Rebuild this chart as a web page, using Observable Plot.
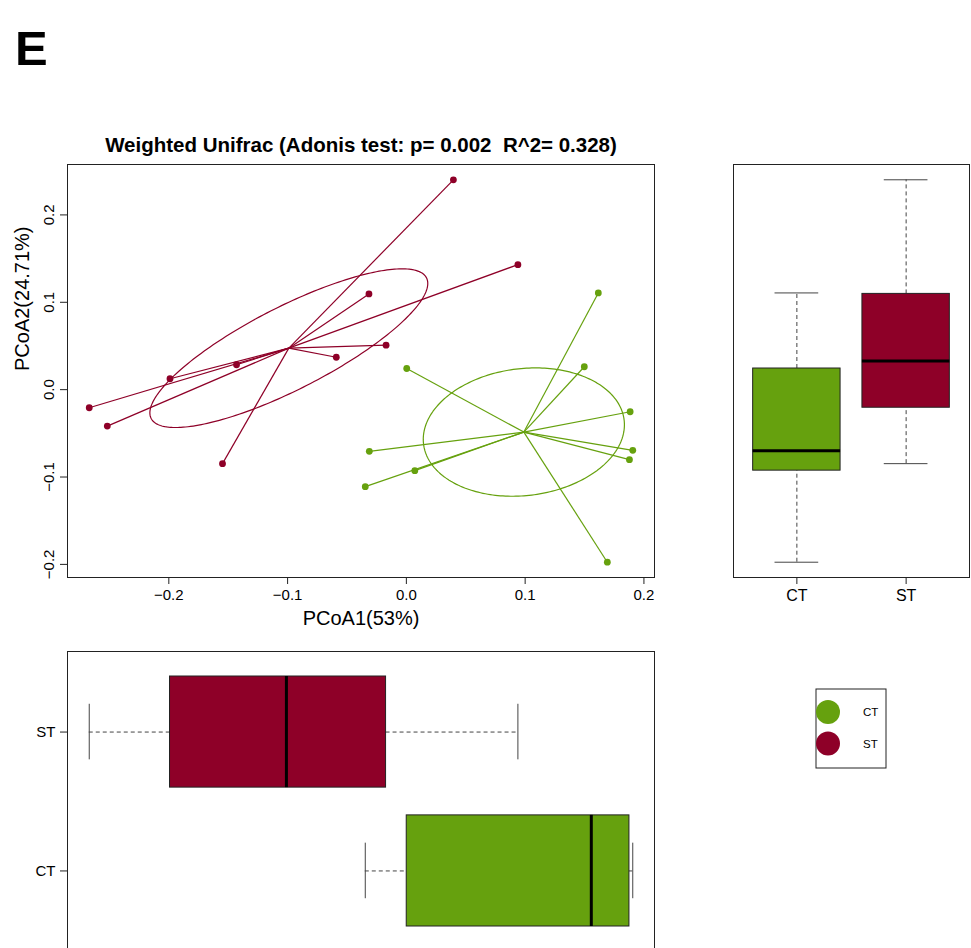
<!DOCTYPE html>
<html>
<head>
<meta charset="utf-8">
<script src="https://cdn.jsdelivr.net/npm/d3@7"></script>
<script src="https://cdn.jsdelivr.net/npm/@observablehq/plot@0.6"></script>
<style>
  html, body { margin: 0; padding: 0; background: #fff; }
  #page { position: relative; width: 971px; height: 948px; overflow: hidden;
          font-family: "Liberation Sans", Arial, Helvetica, sans-serif; }
  .panel { position: absolute; }
  .panel svg { display: block; overflow: visible; }
</style>
</head>
<body>
<div id="page">
  <div class="panel" id="overlay" style="left:0;top:0;"></div>
  <div class="panel" id="scatter" style="left:0;top:140px;"></div>
  <div class="panel" id="side" style="left:700px;top:140px;"></div>
  <div class="panel" id="bottom" style="left:0;top:640px;"></div>
  <div class="panel" id="legend" style="left:800px;top:680px;"></div>
</div>
<script>
// ---- data -------------------------------------------------------------
const panelLetter = "E";
const titleText = "Weighted Unifrac (Adonis test: p= 0.002  R^2= 0.328)";
const xLabel = "PCoA1(53%)";
const yLabel = "PCoA2(24.71%)";

const groups = ["CT", "ST"];
const groupColors = ["#66a10e", "#8e0028"];

// PCoA scores per sample
const ctPC1 = [0.1616, 0.1498, 0.0003, 0.1884, 0.1906, 0.1878, -0.0312, 0.0071, -0.0346, 0.1692];
const ctPC2 = [0.1107, 0.0262, 0.0242, -0.0253, -0.0695, -0.0801, -0.0706, -0.0927, -0.1110, -0.1975];
const stPC1 = [0.0396, 0.0939, -0.0315, -0.0171, -0.0590, -0.1430, -0.1990, -0.2670, -0.2518, -0.1548];
const stPC2 = [0.2402, 0.1431, 0.1096, 0.0509, 0.0371, 0.0285, 0.0125, -0.0207, -0.0417, -0.0847];

// dispersion-ellipse size (multiples of the group covariance)
const ellipseScale = [0.853, 0.952];

const xTicks = [-0.2, -0.1, 0.0, 0.1, 0.2];
const yTicks = [-0.2, -0.1, 0.0, 0.1, 0.2];

// ---- derived tables -----------------------------------------------------
const pc1 = [ctPC1, stPC1];
const pc2 = [ctPC2, stPC2];
const fmt = d3.format(".1f");
const FONT = '"Liberation Sans", Arial, Helvetica, sans-serif';

const centroids = groups.map((g, i) => ({group: g, cx: d3.mean(pc1[i]), cy: d3.mean(pc2[i])}));
const samples = groups.flatMap((g, i) =>
  pc1[i].map((x, j) => ({group: g, pc1: x, pc2: pc2[i][j], cx: centroids[i].cx, cy: centroids[i].cy})));

function ellipse(xs, ys, s, group) {
  const n = xs.length, mx = d3.mean(xs), my = d3.mean(ys);
  let sxx = 0, syy = 0, sxy = 0;
  for (let i = 0; i < n; i++) {
    const dx = xs[i] - mx, dy = ys[i] - my;
    sxx += dx * dx; syy += dy * dy; sxy += dx * dy;
  }
  sxx /= n - 1; syy /= n - 1; sxy /= n - 1;
  const a = Math.sqrt(sxx), b = sxy / a, c = Math.sqrt(syy - b * b);
  return d3.range(0, 241).map(k => {
    const t = 2 * Math.PI * k / 240;
    return {group, x: mx + s * a * Math.cos(t), y: my + s * (b * Math.cos(t) + c * Math.sin(t))};
  });
}
const ellipses = groups.flatMap((g, i) => ellipse(pc1[i], pc2[i], ellipseScale[i], g));

// Tukey five-number summary with 1.5 IQR whiskers
function boxStats(values, pos, group) {
  const s = [...values].sort((a, b) => a - b), n = s.length;
  const n4 = Math.floor((n + 3) / 2) / 2;
  const q = [1, n4, (n + 1) / 2, n + 1 - n4, n].map(d => 0.5 * (s[Math.floor(d) - 1] + s[Math.ceil(d) - 1]));
  const iqr = q[3] - q[1];
  const lo = d3.min(s.filter(v => v >= q[1] - 1.5 * iqr));
  const hi = d3.max(s.filter(v => v <= q[3] + 1.5 * iqr));
  return {group, pos, lo, q1: q[1], med: q[2], q3: q[3], hi};
}
const boxY = groups.map((g, i) => boxStats(pc2[i], i + 1, g));
const boxX = groups.map((g, i) => boxStats(pc1[i], i + 1, g));

// axis ranges padded by 4% on each side
function padded(values) {
  const [a, b] = d3.extent(values), r = (b - a) * 0.04;
  return [a - r, b + r];
}
const xDomain = padded(samples.map(d => d.pc1));
const yDomain = padded(samples.map(d => d.pc2));
const catDomain = [0.5 - 0.08, groups.length + 0.5 + 0.08];

const color = {domain: groups, range: groupColors};
const style = {fontFamily: FONT, fontSize: "15px", color: "#000", background: "transparent"};

// ---- ordination scatter -------------------------------------------------
const scatter = Plot.plot({
  width: 670, height: 490,
  marginLeft: 67, marginRight: 16, marginTop: 24, marginBottom: 53,
  style, color,
  x: {domain: xDomain},
  y: {domain: yDomain},
  marks: [
    Plot.link(samples, {x1: "cx", y1: "cy", x2: "pc1", y2: "pc2", stroke: "group", strokeWidth: 1.2}),
    Plot.line(ellipses, {x: "x", y: "y", z: "group", stroke: "group", strokeWidth: 1.2}),
    Plot.dot(samples, {x: "pc1", y: "pc2", fill: "group", r: 3.4}),
    Plot.frame({stroke: "#222"}),
    Plot.axisX({ticks: xTicks, tickFormat: fmt, tickSize: 7, tickPadding: 5, label: null, stroke: "#222", fontSize: 15}),
    Plot.axisY({ticks: yTicks, tickFormat: fmt, tickSize: 7, tickPadding: 7, tickRotate: -90, label: null, stroke: "#222", fontSize: 15}),
    Plot.text([xLabel], {text: d => d, frameAnchor: "bottom", lineAnchor: "bottom", dy: 47, fontSize: 20}),
    Plot.text([yLabel], {text: d => d, frameAnchor: "left", dx: -45, rotate: -90, fontSize: 20})
  ]
});
document.getElementById("scatter").append(scatter);

// ---- PCoA2 box plot ------------------------------------------------------
const side = Plot.plot({
  width: 271, height: 490,
  marginLeft: 33, marginRight: 2, marginTop: 24, marginBottom: 53,
  style, color,
  x: {domain: catDomain},
  y: {domain: yDomain, axis: null},
  marks: [
    Plot.ruleX(boxY, {x: "pos", y1: "q3", y2: "hi", stroke: "#444", strokeDasharray: "4,3"}),
    Plot.ruleX(boxY, {x: "pos", y1: "lo", y2: "q1", stroke: "#444", strokeDasharray: "4,3"}),
    Plot.ruleY(boxY, {y: "hi", x1: d => d.pos - 0.2, x2: d => d.pos + 0.2, stroke: "#444"}),
    Plot.ruleY(boxY, {y: "lo", x1: d => d.pos - 0.2, x2: d => d.pos + 0.2, stroke: "#444"}),
    Plot.rect(boxY, {x1: d => d.pos - 0.4, x2: d => d.pos + 0.4, y1: "q1", y2: "q3", fill: "group", stroke: "#222"}),
    Plot.ruleY(boxY, {y: "med", x1: d => d.pos - 0.4, x2: d => d.pos + 0.4, stroke: "#000", strokeWidth: 3}),
    Plot.frame({stroke: "#222"}),
    Plot.axisX({ticks: groups.map((g, i) => i + 1), tickFormat: i => groups[i - 1], tickSize: 7, tickPadding: 5, label: null, stroke: "#222", fontSize: 16})
  ]
});
document.getElementById("side").append(side);

// ---- PCoA1 box plot ------------------------------------------------------
const bottom = Plot.plot({
  width: 670, height: 320,
  marginLeft: 67, marginRight: 16, marginTop: 11, marginBottom: 9,
  style, color,
  x: {domain: xDomain, axis: null},
  y: {domain: catDomain},
  marks: [
    Plot.ruleY(boxX, {y: "pos", x1: "q3", x2: "hi", stroke: "#444", strokeDasharray: "4,3"}),
    Plot.ruleY(boxX, {y: "pos", x1: "lo", x2: "q1", stroke: "#444", strokeDasharray: "4,3"}),
    Plot.ruleX(boxX, {x: "hi", y1: d => d.pos - 0.2, y2: d => d.pos + 0.2, stroke: "#444"}),
    Plot.ruleX(boxX, {x: "lo", y1: d => d.pos - 0.2, y2: d => d.pos + 0.2, stroke: "#444"}),
    Plot.rect(boxX, {y1: d => d.pos - 0.4, y2: d => d.pos + 0.4, x1: "q1", x2: "q3", fill: "group", stroke: "#222"}),
    Plot.ruleX(boxX, {x: "med", y1: d => d.pos - 0.4, y2: d => d.pos + 0.4, stroke: "#000", strokeWidth: 3}),
    Plot.frame({stroke: "#222"}),
    Plot.axisY({ticks: groups.map((g, i) => i + 1), tickFormat: i => groups[i - 1], tickSize: 7, tickPadding: 5, label: null, stroke: "#222", fontSize: 15})
  ]
});
document.getElementById("bottom").append(bottom);

// ---- panel letter and title -----------------------------------------------
const overlay = d3.select("#overlay").append("svg")
  .attr("width", 971).attr("height", 160)
  .style("font-family", FONT);
overlay.append("text").attr("x", 15).attr("y", 65)
  .attr("font-size", 49).attr("font-weight", "bold").text(panelLetter);
overlay.append("text").attr("x", 361).attr("y", 152).attr("text-anchor", "middle")
  .attr("font-size", 20.5).attr("font-weight", "bold")
  .attr("xml:space", "preserve").style("white-space", "pre").text(titleText);

// ---- legend ---------------------------------------------------------------
const legend = d3.select("#legend").append("svg")
  .attr("width", 100).attr("height", 100)
  .style("font-family", FONT);
legend.append("rect").attr("x", 16).attr("y", 9).attr("width", 70).attr("height", 79)
  .attr("fill", "none").attr("stroke", "#222");
groups.forEach((g, i) => {
  legend.append("circle").attr("cx", 28).attr("cy", 32 + i * 31.5).attr("r", 12).attr("fill", groupColors[i]);
  legend.append("text").attr("x", 63).attr("y", 32 + i * 31.5 + 4).attr("font-size", 11.5).text(g);
});
</script>
</body>
</html>
